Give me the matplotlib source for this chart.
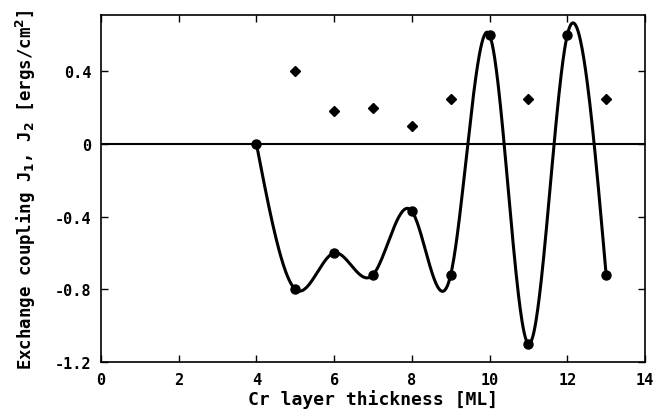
import numpy as np
import matplotlib
matplotlib.use("Agg")
import matplotlib.pyplot as plt

# Data
thickness_J1 = [4, 5, 6, 7, 8, 9, 10, 11, 12, 13]
J1 = [0.0, -0.80, -0.60, -0.72, -0.37, -0.72, 0.60, -1.10, 0.60, -0.72]
thickness_J2 = [5, 6, 7, 8, 9, 11, 13]
J2 = [0.40, 0.18, 0.20, 0.10, 0.25, 0.25, 0.25]
xticks = [0, 2, 4, 6, 8, 10, 12, 14]
yticks = [-1.2, -0.8, -0.4, 0, 0.4]
ytick_labels = ["-1.2", "-0.8", "-0.4", "0", "0.4"]


def natural_spline(x, y, xs):
    x = np.asarray(x, float); y = np.asarray(y, float)
    n = len(x)
    h = np.diff(x)
    A = np.zeros((n, n)); b = np.zeros(n)
    A[0, 0] = 1; A[-1, -1] = 1
    for i in range(1, n - 1):
        A[i, i - 1] = h[i - 1]
        A[i, i] = 2 * (h[i - 1] + h[i])
        A[i, i + 1] = h[i]
        b[i] = 3 * ((y[i + 1] - y[i]) / h[i] - (y[i] - y[i - 1]) / h[i - 1])
    c = np.linalg.solve(A, b)
    bb = np.zeros(n - 1); d = np.zeros(n - 1)
    for i in range(n - 1):
        bb[i] = (y[i + 1] - y[i]) / h[i] - h[i] * (2 * c[i] + c[i + 1]) / 3
        d[i] = (c[i + 1] - c[i]) / (3 * h[i])
    idx = np.clip(np.searchsorted(x, xs) - 1, 0, n - 2)
    dx = xs - x[idx]
    return y[idx] + bb[idx] * dx + c[idx] * dx ** 2 + d[idx] * dx ** 3


fig = plt.figure(figsize=(6.65, 4.14), dpi=100)
ax = fig.add_axes([101 / 665, 1 - 363 / 414, 544 / 665, 347 / 414])

xs = np.linspace(thickness_J1[0], thickness_J1[-1], 600)
ax.plot(xs, natural_spline(thickness_J1, J1, xs), color="black", lw=2.2)
ax.plot(thickness_J1, J1, "o", color="black", ms=6.5)
ax.plot(thickness_J2, J2, "D", color="black", ms=5)
ax.axhline(0, color="black", lw=1.5)

ax.set_xlim(0, 14)
ax.set_ylim(-1.2, 0.71)
ax.set_xticks(xticks)
ax.set_yticks(yticks)
ax.set_yticklabels(ytick_labels)

fp = dict(family="DejaVu Sans Mono", weight="bold")
for lab in ax.get_xticklabels() + ax.get_yticklabels():
    lab.set_fontfamily("DejaVu Sans Mono")
    lab.set_fontweight("bold")
    lab.set_fontsize(11)
ax.tick_params(direction="in", length=5, width=1, top=True, right=True, pad=7)
ax.set_xlabel("Cr layer thickness [ML]", fontsize=13, labelpad=2, **fp)
ax.set_ylabel("Exchange coupling J$_\\mathbf{1}$, J$_\\mathbf{2}$ [ergs/cm$^\\mathbf{2}$]",
              fontsize=12.5, labelpad=12, **fp)
for s in ax.spines.values():
    s.set_linewidth(1.2)

fig.savefig("out.png", dpi=100)
